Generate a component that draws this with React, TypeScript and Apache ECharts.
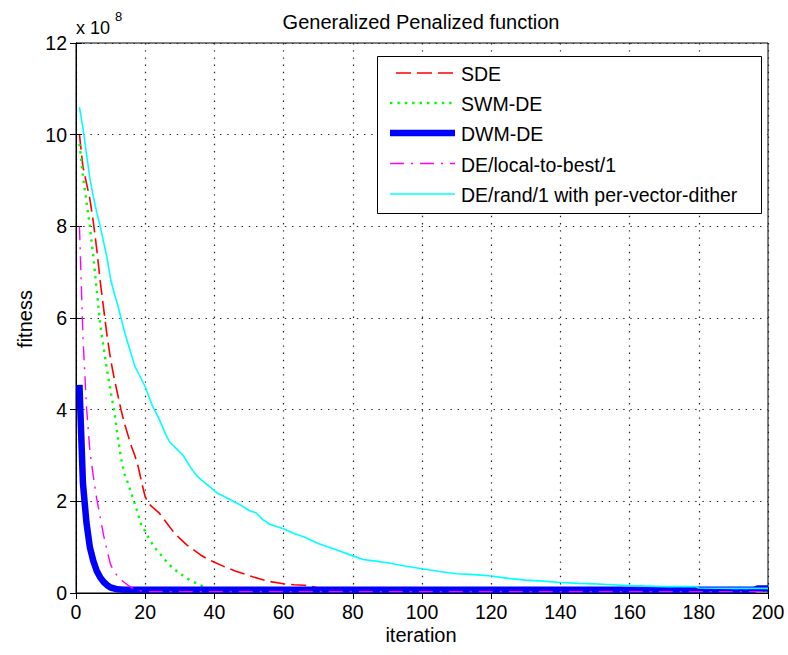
import React, { useEffect, useRef } from "react";
import * as echarts from "echarts";

// values in units of 1e8
const SERIES_NAMES = [
  "SDE",
  "SWM-DE",
  "DWM-DE",
  "DE/local-to-best/1",
  "DE/rand/1 with per-vector-dither",
];

const SDE: number[][] = [
  [1, 10.0], [2, 9.3], [3, 8.95], [4, 8.6], [5, 8.1], [6, 7.5], [7, 6.8], [8, 6.2], [9, 5.6], [10, 5.1],
  [11, 4.7], [12, 4.35], [13, 4.0], [14, 3.7], [15, 3.45], [16, 3.2], [17, 3.0], [18, 2.75], [19, 2.4], [20, 2.1],
  [21, 1.95], [22, 1.88], [24, 1.75], [26, 1.55], [28, 1.35], [30, 1.19], [32, 1.05], [34, 0.94], [36, 0.83],
  [38, 0.74], [40, 0.67], [43, 0.57], [46, 0.48], [50, 0.38], [53, 0.31], [56, 0.25], [60, 0.2], [63, 0.18],
  [66, 0.17], [69, 0.13], [71, 0.08], [75, 0.06], [200, 0.06],
];

const SWM_DE: number[][] = [
  [1, 9.8], [2, 9.1], [3, 8.55], [4, 8.0], [5, 7.35], [6, 6.6], [7, 5.85], [8, 5.35], [9, 4.85], [10, 4.4],
  [11, 4.0], [12, 3.45], [13, 2.95], [14, 2.6], [15, 2.4], [16, 2.17], [17, 1.95], [18, 1.7], [19, 1.45],
  [20, 1.35], [21, 1.2], [22, 1.08], [23, 0.97], [24, 0.88], [26, 0.7], [28, 0.54], [30, 0.43], [32, 0.32],
  [34, 0.24], [36, 0.17], [38, 0.1], [40, 0.05], [200, 0.05],
];

const DWM_DE: number[][] = [
  [1, 4.54], [2, 2.4], [3, 1.55], [4, 1.0], [5, 0.7], [6, 0.48], [7, 0.34], [8, 0.24], [9, 0.17], [10, 0.12],
  [12, 0.08], [14, 0.07], [196, 0.07], [197, 0.1], [200, 0.1],
];

const LOCAL_TO_BEST: number[][] = [
  [1, 8.0], [2, 5.6], [3, 4.1], [4, 3.1], [5, 2.55], [6, 2.05], [7, 1.65], [8, 1.25], [9, 0.92], [10, 0.62],
  [11, 0.47], [12, 0.37], [13, 0.29], [14, 0.23], [15, 0.17], [16, 0.12], [18, 0.06], [20, 0.03], [200, 0.03],
];

const RAND_DITHER: number[][] = [
  [1, 10.6], [2, 10.15], [3, 9.6], [4, 9.05], [5, 8.65], [6, 8.3], [7, 8.0], [8, 7.65], [9, 7.3], [10, 6.85],
  [11, 6.55], [12, 6.3], [13, 6.0], [14, 5.7], [15, 5.45], [16, 5.2], [17, 4.95], [18, 4.8], [20, 4.5],
  [22, 4.1], [24, 3.8], [26, 3.45], [27, 3.3], [29, 3.15], [31, 3.0], [33, 2.75], [35, 2.55], [37, 2.42],
  [39, 2.3], [41, 2.17], [43, 2.1], [46, 1.98], [48, 1.9], [50, 1.8], [52, 1.75], [54, 1.6], [56, 1.5],
  [60, 1.4], [63, 1.3], [66, 1.22], [70, 1.08], [75, 0.95], [80, 0.81], [83, 0.73], [86, 0.7], [90, 0.66],
  [95, 0.59], [100, 0.53], [105, 0.47], [110, 0.42], [115, 0.4], [120, 0.37], [125, 0.32], [130, 0.28],
  [135, 0.26], [140, 0.23], [145, 0.21], [150, 0.2], [155, 0.18], [160, 0.16], [165, 0.15], [170, 0.14],
  [179, 0.14], [180, 0.11], [190, 0.1], [200, 0.1],
];

const X_MIN = 0;
const X_MAX = 200;
const X_STEP = 20;
const Y_MIN = 0;
const Y_MAX = 12;
const Y_STEP = 2;

const FONT = "'Liberation Sans', Arial, Helvetica, sans-serif";

const STYLES = [
  { color: "#ff0000", width: 1.6, type: [15, 6] as any },
  { color: "#00ff00", width: 2.4, type: [2.4, 5] as any },
  { color: "#0000ff", width: 6.5, type: "solid" as any },
  { color: "#ff00ff", width: 1.4, type: [14, 7, 2, 7] as any },
  { color: "#00ffff", width: 1.6, type: "solid" as any },
];

const DATA = [SDE, SWM_DE, DWM_DE, LOCAL_TO_BEST, RAND_DITHER];

export default function App() {
  const ref = useRef<HTMLDivElement>(null);
  useEffect(() => {
    if (!ref.current) return;
    const chart = echarts.init(ref.current, null, { renderer: "svg" });

    const legendLeft = 377;
    const legendTop = 56;
    const legendRight = 761;
    const legendBottom = 213;
    const rowYs = [73, 103, 133, 163.5, 194];

    const legendEls: any[] = [
      {
        type: "rect",
        shape: { x: legendLeft + 0.5, y: legendTop + 0.5, width: legendRight - legendLeft, height: legendBottom - legendTop },
        style: { fill: "#fff", stroke: "#000", lineWidth: 1 },
        z: 100,
      },
    ];
    SERIES_NAMES.forEach((name, i) => {
      const st = STYLES[i];
      legendEls.push({
        type: "line",
        shape: { x1: 390, y1: rowYs[i], x2: 455, y2: rowYs[i] },
        style: {
          stroke: st.color,
          lineWidth: st.width,
          lineDash: st.type === "solid" ? null : st.type,
          lineDashOffset: i === 0 ? -6 : 0,
        },
        z: 101,
      });
      legendEls.push({
        type: "text",
        x: 461,
        y: rowYs[i] + 1,
        style: { text: name, fill: "#000", font: `19.5px ${FONT}`, verticalAlign: "middle", align: "left" },
        z: 101,
      });
    });

    const option: any = {
      animation: false,
      backgroundColor: "#fff",
      grid: {
        left: 76,
        right: 20,
        top: 43,
        bottom: 62,
        show: true,
        borderColor: "#000",
        borderWidth: 1,
        backgroundColor: "transparent",
      },
      xAxis: [
        {
          type: "value",
          min: X_MIN,
          max: X_MAX,
          interval: X_STEP,
          position: "bottom",
          axisLine: { show: true, lineStyle: { color: "#000", width: 1 } },
          axisTick: { show: true, inside: true, length: 6, lineStyle: { color: "#000" } },
          axisLabel: { color: "#000", fontSize: 19.5, fontFamily: FONT, margin: 9 },
          splitLine: { show: true, lineStyle: { color: "#222", width: 1.2, type: [1.4, 5.8] } },
        },
        {
          type: "value",
          min: X_MIN,
          max: X_MAX,
          interval: X_STEP,
          position: "top",
          axisLine: { show: true, lineStyle: { color: "#000", width: 1 } },
          axisTick: { show: true, inside: true, length: 6, lineStyle: { color: "#000" } },
          axisLabel: { show: false },
          splitLine: { show: false },
        },
      ],
      yAxis: [
        {
          type: "value",
          min: Y_MIN,
          max: Y_MAX,
          interval: Y_STEP,
          position: "left",
          axisLine: { show: true, lineStyle: { color: "#000", width: 1 } },
          axisTick: { show: true, inside: true, length: 6, lineStyle: { color: "#000" } },
          axisLabel: { color: "#000", fontSize: 19.5, fontFamily: FONT, margin: 9 },
          splitLine: { show: true, lineStyle: { color: "#222", width: 1.2, type: [1.4, 5.8] } },
        },
        {
          type: "value",
          min: Y_MIN,
          max: Y_MAX,
          interval: Y_STEP,
          position: "right",
          axisLine: { show: true, lineStyle: { color: "#000", width: 1 } },
          axisTick: { show: true, inside: true, length: 6, lineStyle: { color: "#000" } },
          axisLabel: { show: false },
          splitLine: { show: false },
        },
      ],
      series: DATA.map((d, i) => ({
        name: SERIES_NAMES[i],
        type: "line",
        data: d,
        xAxisIndex: 0,
        yAxisIndex: 0,
        symbol: "none",
        showSymbol: false,
        smooth: false,
        lineStyle: { color: STYLES[i].color, width: STYLES[i].width, type: STYLES[i].type },
        itemStyle: { color: STYLES[i].color },
        emphasis: { disabled: true },
        z: 2 + i,
      })),
      graphic: [
        {
          type: "text",
          x: 421,
          y: 22,
          style: { text: "Generalized Penalized function", fill: "#000", font: `20px ${FONT}`, align: "center", verticalAlign: "middle" },
        },
        {
          type: "text",
          x: 76,
          y: 28,
          style: { text: "x 10", fill: "#000", font: `18px ${FONT}`, align: "left", verticalAlign: "middle" },
        },
        {
          type: "text",
          x: 115,
          y: 16,
          style: { text: "8", fill: "#000", font: `13px ${FONT}`, align: "left", verticalAlign: "middle" },
        },
        {
          type: "text",
          x: 421,
          y: 635,
          style: { text: "iteration", fill: "#000", font: `20px ${FONT}`, align: "center", verticalAlign: "middle" },
        },
        {
          type: "text",
          x: 25,
          y: 319,
          rotation: Math.PI / 2,
          style: { text: "fitness", fill: "#000", font: `20px ${FONT}`, align: "center", verticalAlign: "middle" },
        },
        ...legendEls,
      ],
    };
    chart.setOption(option);
    return () => chart.dispose();
  }, []);
  return (
    <div
      ref={ref}
      style={{ position: "fixed", left: 0, top: 0, width: 788, height: 655, background: "#fff" }}
    />
  );
}
